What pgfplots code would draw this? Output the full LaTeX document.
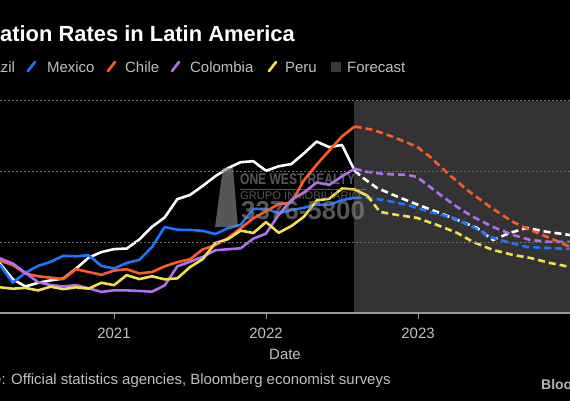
\documentclass[border=0pt]{standalone}
\usepackage{pgfplots}
\pgfplotsset{compat=1.18}
\usepackage{fontspec}
\setmainfont{Liberation Sans}
\definecolor{bbblue}{HTML}{1A75FF}
\definecolor{bborange}{HTML}{FF5A23}
\definecolor{bbpurple}{HTML}{B46EF0}
\definecolor{bbyellow}{HTML}{F5DF4D}
\definecolor{bbtext}{HTML}{C0C0C0}
\definecolor{bbshade}{HTML}{333333}
\definecolor{bbsq}{HTML}{3A3A3A}
\definecolor{bbgrid}{HTML}{707070}
\definecolor{bbaxis}{HTML}{9A9A9A}
\begin{document}
\begin{tikzpicture}[x=1bp,y=1bp]
\begin{scope}
\clip (0,0) rectangle (570,400);
\fill[black] (-5,-5) rectangle (575,405);
% title and legend (picture is cropped on the left)
\node[anchor=base west, inner sep=0, text=white, font=\bfseries\fontsize{22}{26}\selectfont] at (-33,359) {Inflation Rates in Latin America};
\begin{scope}[font=\fontsize{15}{18}\selectfont, text=bbtext]
\node[anchor=base west, inner sep=0] at (-22.5,327.5) {Brazil};
\draw[bbblue, line width=2.6bp, line cap=round] (28,329) -- (35,338);
\node[anchor=base west, inner sep=0] at (47,327.5) {Mexico};
\draw[bborange, line width=2.6bp, line cap=round] (108,329) -- (115,338);
\node[anchor=base west, inner sep=0] at (125,327.5) {Chile};
\draw[bbpurple, line width=2.6bp, line cap=round] (172,329) -- (179,338);
\node[anchor=base west, inner sep=0] at (190,327.5) {Colombia};
\draw[bbyellow, line width=2.6bp, line cap=round] (269,329) -- (276,338);
\node[anchor=base west, inner sep=0] at (285,327.5) {Peru};
\fill[bbsq] (331,328) rectangle (341,338);
\node[anchor=base west, inner sep=0] at (347,327.5) {Forecast};
\node[anchor=base west, inner sep=0] at (-46,16) {Source: Official statistics agencies, Bloomberg economist surveys};
\end{scope}
\node[anchor=base west, inner sep=0, text=bbtext!115, font=\bfseries\fontsize{14}{17}\selectfont] at (541,11) {Bloomberg};
\begin{axis}[
  at={(0bp,299bp)}, anchor=north west,
  width=570bp, height=212bp, scale only axis,
  xmin=2020.25, xmax=2024, ymin=0, ymax=15,
  axis x line*=bottom, axis y line*=left,
  x axis line style={bbaxis, line width=1.2bp, -},
  y axis line style={draw=none},
  xtick={2021,2022,2023}, xticklabels={2021,2022,2023},
  ytick={5,10,15}, yticklabels={}, ytick style={draw=none},
  ymajorgrids, grid style={bbgrid, line width=1bp, dash pattern=on 1.5bp off 2.5bp},
  axis on top,
  major tick length=6bp, tick align=outside,
  xtick style={bbaxis, line width=1bp},
  /pgf/number format/assume math mode=true,
  ticklabel style={font=\fontsize{15}{18}\selectfont, text=bbtext},
  xticklabel style={anchor=base, yshift=-19.5bp},
  xlabel={Date},
  xlabel style={at={(axis description cs:0.5,0)}, anchor=base, yshift=-46bp, font=\fontsize{15}{18}\selectfont, text=bbtext},
  every axis plot/.append style={line width=2.6bp, line join=round},
  clip=true,
]
\addplot[fill=bbshade, draw=none] coordinates {(2022.58,0) (2022.58,15) (2024.1,15) (2024.1,0)} -- cycle;
% Brazil
\addplot[white] coordinates {(2020.1667,4.01) (2020.25,3.5) (2020.3333,2.40) (2020.4167,1.88) (2020.5,2.13) (2020.5833,2.31) (2020.6667,2.44) (2020.75,3.14) (2020.8333,3.92) (2020.9167,4.31) (2021.0,4.52) (2021.0833,4.56) (2021.1667,5.20) (2021.25,6.10) (2021.3333,6.76) (2021.4167,8.06) (2021.5,8.35) (2021.5833,8.99) (2021.6667,9.68) (2021.75,10.25) (2021.8333,10.67) (2021.9167,10.74) (2022.0,10.06) (2022.0833,10.38) (2022.1667,10.54) (2022.25,11.30) (2022.3333,12.13) (2022.4167,11.73) (2022.5,11.89) (2022.5833,10.07)};
\addplot[white, dash pattern=on 7bp off 4bp] coordinates {(2022.5833,10.07) (2022.638,9.56) (2022.730,8.85) (2022.836,8.36) (2022.967,7.79) (2023.125,7.15) (2023.257,6.59) (2023.388,6.02) (2023.493,5.17) (2023.605,5.67) (2023.717,6.02) (2023.849,5.74) (2024.0,5.52)};
% Mexico
\addplot[bbblue] coordinates {(2020.1667,3.70) (2020.25,3.4) (2020.3333,2.15) (2020.4167,2.84) (2020.5,3.33) (2020.5833,3.62) (2020.6667,4.05) (2020.75,4.01) (2020.8333,4.09) (2020.9167,3.33) (2021.0,3.15) (2021.0833,3.54) (2021.1667,3.76) (2021.25,4.67) (2021.3333,6.08) (2021.4167,5.89) (2021.5,5.88) (2021.5833,5.81) (2021.6667,5.59) (2021.75,6.00) (2021.8333,6.24) (2021.9167,7.37) (2022.0,7.36) (2022.0833,7.07) (2022.1667,7.28) (2022.25,7.45) (2022.3333,7.68) (2022.4167,7.65) (2022.5,7.99) (2022.5833,8.15)};
\addplot[bbblue, dash pattern=on 7bp off 4bp] coordinates {(2022.5833,8.15) (2022.664,8.14) (2022.770,8.0) (2022.928,7.65) (2023.079,7.15) (2023.230,6.73) (2023.362,6.09) (2023.474,5.38) (2023.586,5.03) (2023.717,4.67) (2023.849,4.6) (2024.0,4.53)};
% Chile
\addplot[bborange] coordinates {(2020.1667,3.9) (2020.25,3.7) (2020.3333,3.4) (2020.4167,2.8) (2020.5,2.6) (2020.5833,2.5) (2020.6667,2.4) (2020.75,3.1) (2020.8333,2.9) (2020.9167,2.7) (2021.0,3.0) (2021.0833,3.1) (2021.1667,2.8) (2021.25,2.9) (2021.3333,3.3) (2021.4167,3.6) (2021.5,3.8) (2021.5833,4.5) (2021.6667,4.8) (2021.75,5.3) (2021.8333,6.0) (2021.9167,6.7) (2022.0,7.2) (2022.0833,7.7) (2022.1667,7.8) (2022.25,9.4) (2022.3333,10.5) (2022.4167,11.5) (2022.5,12.5) (2022.5833,13.2)};
\addplot[bborange, dash pattern=on 7bp off 4bp] coordinates {(2022.5833,13.2) (2022.704,12.96) (2022.836,12.46) (2022.993,11.76) (2023.079,11.05) (2023.191,9.92) (2023.322,8.71) (2023.474,7.51) (2023.625,6.44) (2023.737,5.88) (2023.868,5.31) (2024.0,4.67)};
% Colombia
\addplot[bbpurple] coordinates {(2020.1667,3.72) (2020.25,3.86) (2020.3333,3.51) (2020.4167,2.85) (2020.5,2.19) (2020.5833,1.97) (2020.6667,1.88) (2020.75,1.97) (2020.8333,1.75) (2020.9167,1.49) (2021.0,1.61) (2021.0833,1.60) (2021.1667,1.56) (2021.25,1.51) (2021.3333,1.95) (2021.4167,3.30) (2021.5,3.63) (2021.5833,3.97) (2021.6667,4.44) (2021.75,4.51) (2021.8333,4.58) (2021.9167,5.26) (2022.0,5.62) (2022.0833,6.94) (2022.1667,8.01) (2022.25,8.53) (2022.3333,9.23) (2022.4167,9.07) (2022.5,9.67) (2022.5833,10.21)};
\addplot[bbpurple, dash pattern=on 7bp off 4bp] coordinates {(2022.5833,10.21) (2022.664,9.99) (2022.770,9.84) (2022.928,9.77) (2022.993,9.63) (2023.079,8.92) (2023.164,8.22) (2023.257,7.51) (2023.362,6.80) (2023.493,6.09) (2023.625,5.52) (2023.737,5.17) (2023.868,5.03) (2024.0,5.03)};
% Peru
\addplot[bbyellow] coordinates {(2020.1667,1.90) (2020.25,1.82) (2020.3333,1.72) (2020.4167,1.78) (2020.5,1.60) (2020.5833,1.86) (2020.6667,1.69) (2020.75,1.82) (2020.8333,1.72) (2020.9167,2.14) (2021.0,1.97) (2021.0833,2.68) (2021.1667,2.40) (2021.25,2.60) (2021.3333,2.38) (2021.4167,2.45) (2021.5,3.25) (2021.5833,3.81) (2021.6667,4.95) (2021.75,5.23) (2021.8333,5.83) (2021.9167,5.66) (2022.0,6.43) (2022.0833,5.68) (2022.1667,6.15) (2022.25,6.82) (2022.3333,7.96) (2022.4167,8.09) (2022.5,8.81) (2022.5833,8.74) (2022.6667,8.3)};
\addplot[bbyellow, dash pattern=on 7bp off 4bp] coordinates {(2022.6667,8.3) (2022.75,7.15) (2022.862,6.94) (2022.993,6.73) (2023.125,6.23) (2023.257,5.67) (2023.362,5.03) (2023.493,4.46) (2023.625,4.11) (2023.737,3.9) (2023.868,3.54) (2024.0,3.26)};
\end{axis}
% watermark
\begin{scope}[opacity=0.62, gray!90]
\fill (215,173) -- (223,232) -- (233,232) -- (238,173) -- cycle;
\node[anchor=base west, inner sep=0, font=\bfseries\fontsize{15.5}{18}\selectfont, xscale=0.78, transform shape] at (240,215.5) {ONE WEST REALTY};
\draw[line width=1bp] (240,211) -- (367,211);
\node[anchor=base west, inner sep=0, font=\fontsize{11.2}{13}\selectfont] at (240,201) {GRUPO INMOBILIARIO};
\node[anchor=base west, inner sep=0, font=\bfseries\fontsize{26}{30}\selectfont] at (241,180.5) {3376-5800};
\end{scope}
\end{scope}
\pgfresetboundingbox
\useasboundingbox (0,0) rectangle (570,400);
\end{tikzpicture}
\end{document}
